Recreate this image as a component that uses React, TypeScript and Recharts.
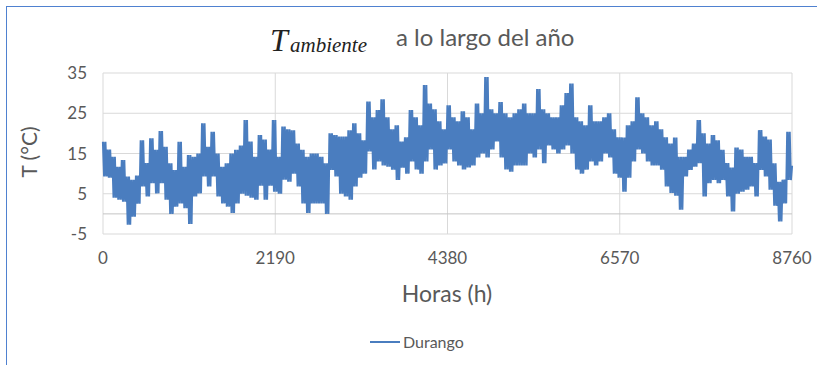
import React from 'react';
import { LineChart, Line, XAxis, YAxis, CartesianGrid, ReferenceLine } from 'recharts';

// Durango, hourly ambient temperature read off the picture as the band's
// upper and lower edge, one pair every 60 h
const tempMax = [
  17.9, 16, 14.2, 11.7, 13.4, 9.3, 8.5, 9.5, 18.3, 12.6,
  18.8, 15.9, 20.6, 16.7, 12.6, 10.9, 17.9, 11.7, 14.6, 14.2,
  15, 22.5, 16.7, 20.4, 15, 11.7, 12.6, 15, 15.9, 17,
  23.3, 18, 14.2, 19.6, 18.5, 16, 23.3, 14.2, 21.7, 21,
  20.8, 17.5, 15.9, 14.2, 15, 15, 14.2, 12.6, 20, 19.6,
  19.2, 19.2, 20.8, 22.5, 20, 18.3, 27.9, 24, 25.8, 28.5,
  24, 21, 22, 18, 19, 25.8, 24, 22, 32, 27.4,
  26, 23, 21, 27, 24, 23, 25.5, 24, 21, 27.4,
  25, 34, 26, 25, 27.8, 25, 24, 25, 26, 27.4,
  25, 25, 31, 26, 25, 24, 24, 27, 30, 32.4,
  24, 23, 22, 27, 23, 23, 24, 25, 21, 19,
  19, 22, 23, 29, 25, 24, 22, 23, 21, 19,
  17.5, 19, 14.2, 14.2, 16, 17.5, 23.3, 20, 17.5, 19.6,
  18.3, 15.9, 12.6, 11.5, 16.5, 16, 14.2, 14.2, 12.6, 20.8,
  19.2, 18.5, 12.6, 8, 8.5, 20.4,
];

const tempMin = [
  9.3, 9, 4, 3.5, 3, -2.7, -0.7, 2.5, 6.8, 4.3,
  7.6, 5.1, 7.6, 3.5, 0, 1.8, 2.6, 1.4, -2.5, 4.3,
  5.1, 9.3, 6.8, 9.3, 4.3, 2.6, 1.8, 0.2, 2.6, 5,
  4.5, 4, 3.5, 7, 3.5, 7, 5.5, 5, 8.5, 8,
  10, 6.8, 2.6, 0.2, 2.6, 2.6, 2.6, 0, 10.9, 9.3,
  5, 4.3, 3.5, 6.8, 9, 10, 15.5, 11, 13, 12,
  11.7, 11, 8.4, 11.5, 10, 13, 11, 10, 13, 16,
  11, 12, 12.5, 16, 13, 12, 11, 11.5, 12, 14,
  15, 14, 16, 18, 14, 11, 10.5, 12, 12, 12,
  15, 14, 16, 12.6, 17, 16, 15, 16, 17, 15,
  11, 10, 11, 13, 12, 13, 15, 14, 10, 9,
  5.5, 9, 13, 16, 15, 13, 12, 12, 11, 6.8,
  5.2, 4.5, 1, 9.3, 10.9, 11.7, 12.6, 4.3, 7.6, 8.4,
  7.6, 8.4, 4.3, 0.6, 5, 5.5, 6, 6.8, 4.3, 10.9,
  9.3, 6, 2, -1.9, 2.6, 8.4,
];

const tempFinal = 12;
const paso = 60;
const horasTicks = [0, 2190, 4380, 6570, 8760];
const tempTicks = [-5, 5, 15, 25, 35];

// each 60 h block swings between its max and min (daily cycle), every 15 h
const data: { hora: number; temp: number }[] = [];
tempMax.forEach((t, i) => {
  const h = i * paso;
  data.push({ hora: h, temp: t });
  data.push({ hora: h + 15, temp: tempMin[i] });
  data.push({ hora: h + 30, temp: t });
  data.push({ hora: h + 45, temp: tempMin[i] });
});
data.push({ hora: 8760, temp: tempFinal });

const gris = '#595959';
const azul = '#4A7DBF';
const fuente = 'Lato, "Noto Sans", sans-serif';
const serif = '"Liberation Serif", "DejaVu Serif", serif';

const App = () => {
  return (
    <div style={{ position: 'absolute', left: 0, top: 0, width: 817, height: 365, background: '#fff', fontFamily: fuente }}>
      <div
        style={{
          position: 'absolute', left: 6, top: 6, width: 811, height: 359,
          borderLeft: '1.5px solid #4F81D0', borderTop: '1.5px solid #4F81D0',
        }}
      />

      {/* titulo */}
      <span style={{ position: 'absolute', left: 270, top: 22, fontFamily: serif, fontStyle: 'italic', fontSize: 32, lineHeight: '36px', color: '#222' }}>T</span>
      <span style={{ position: 'absolute', left: 290, top: 33, fontFamily: serif, fontStyle: 'italic', fontSize: 21, lineHeight: '24px', color: '#222', whiteSpace: 'nowrap' }}>ambiente</span>
      <span style={{ position: 'absolute', left: 396, top: 23, fontSize: 24, lineHeight: '28px', color: gris, whiteSpace: 'nowrap' }}>a lo largo del año</span>

      <LineChart width={817} height={365} data={data} margin={{ top: 73, right: 25, bottom: 101, left: 0 }}>
        <CartesianGrid stroke="#d9d9d9" strokeWidth={1} />
        <XAxis
          dataKey="hora"
          type="number"
          domain={[0, 8760]}
          ticks={horasTicks}
          axisLine={false}
          tickLine={false}
          tickSize={0}
          tickMargin={18}
          height={30}
          tick={{ fill: gris, fontSize: 17, fontFamily: fuente }}
        />
        <YAxis
          type="number"
          domain={[-5, 35]}
          ticks={tempTicks}
          axisLine={false}
          tickLine={false}
          tickSize={0}
          tickMargin={16}
          width={103}
          tick={{ fill: gris, fontSize: 17, fontFamily: fuente }}
        />
        <ReferenceLine y={0} stroke="#c4c4c4" strokeWidth={1} />
        <Line
          type="linear"
          dataKey="temp"
          stroke={azul}
          strokeWidth={2.2}
          dot={false}
          isAnimationActive={false}
        />
      </LineChart>

      <div
        style={{
          position: 'absolute', left: 28, top: 152, transform: 'translate(-50%, -50%) rotate(-90deg)',
          fontSize: 21, color: gris, whiteSpace: 'nowrap',
        }}
      >
        T (°C)
      </div>

      <div
        style={{
          position: 'absolute', left: 447, top: 293, transform: 'translate(-50%, -50%)',
          fontSize: 23, color: gris, whiteSpace: 'nowrap',
        }}
      >
        Horas (h)
      </div>

      <div style={{ position: 'absolute', left: 370, top: 332, display: 'flex', alignItems: 'center', color: gris, fontSize: 16 }}>
        <span style={{ display: 'inline-block', width: 30, height: 0, borderTop: `2.5px solid ${azul}`, marginRight: 3 }} />
        <span>Durango</span>
      </div>
    </div>
  );
};

export default App;
